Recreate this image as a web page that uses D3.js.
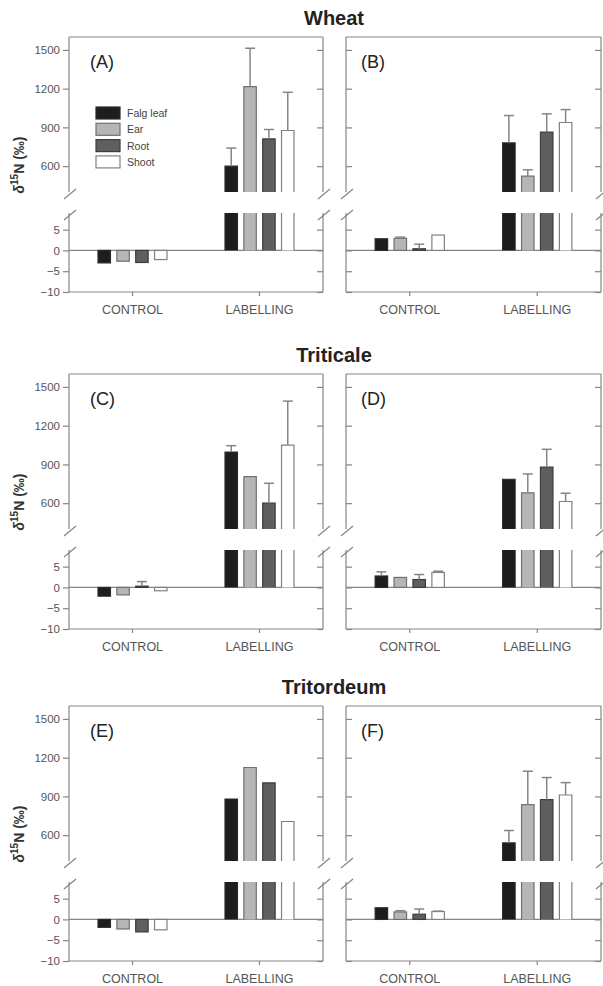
<!DOCTYPE html>
<html>
<head>
<meta charset="utf-8">
<script src="https://cdn.jsdelivr.net/npm/d3@7"></script>
<style>
  body { margin: 0; background: #fff; }
  text { font-family: "Liberation Sans", Arial, sans-serif; }
</style>
</head>
<body>
<script>
// data
const categories = ["CONTROL", "LABELLING"];
const tissues = ["Falg leaf", "Ear", "Root", "Shoot"];
const crops = ["Wheat", "Triticale", "Tritordeum"];
const panelLabels = ["(A)", "(B)", "(C)", "(D)", "(E)", "(F)"];
const upperTicks = [600, 900, 1200, 1500];
const lowerTicks = [-10, -5, 0, 5];

const ctrlA = [-3.0, -2.6, -2.9, -2.2], ctrlErrA = [0, 0, 0, 0];
const labA = [600, 1216, 811, 876], labErrA = [140, 297, 73, 296];
const ctrlB = [2.8, 2.9, 0.4, 3.7], ctrlErrB = [0, 0.3, 1.1, 0];
const labB = [780, 523, 863, 938], labErrB = [212, 49, 142, 100];
const ctrlC = [-2.1, -1.8, 0.3, -0.8], ctrlErrC = [0, 0, 1.1, 0];
const labC = [996, 805, 600, 1050], labErrC = [49, 0, 154, 340];
const ctrlD = [2.75, 2.4, 1.9, 3.6], ctrlErrD = [1.0, 0, 1.2, 0.3];
const labD = [785, 680, 880, 613], labErrD = [0, 146, 137, 64];
const ctrlE = [-1.9, -2.3, -3.0, -2.5], ctrlErrE = [0, 0, 0, 0];
const labE = [880, 1124, 1005, 706], labErrE = [0, 0, 0, 0];
const ctrlF = [2.8, 1.8, 1.25, 1.9], ctrlErrF = [0, 0.3, 1.25, 0.1];
const labF = [540, 836, 875, 911], labErrF = [96, 259, 171, 96];

const panels = [
    { ctrl: ctrlA, ctrlErr: ctrlErrA, lab: labA, labErr: labErrA },
    { ctrl: ctrlB, ctrlErr: ctrlErrB, lab: labB, labErr: labErrB },
    { ctrl: ctrlC, ctrlErr: ctrlErrC, lab: labC, labErr: labErrC },
    { ctrl: ctrlD, ctrlErr: ctrlErrD, lab: labD, labErr: labErrD },
    { ctrl: ctrlE, ctrlErr: ctrlErrE, lab: labE, labErr: labErrE },
    { ctrl: ctrlF, ctrlErr: ctrlErrF, lab: labF, labErr: labErrF }
];

const fills = ["#1d1d1d", "#b6b6b6", "#5f5f5f", "#ffffff"];
const strokes = ["#2a2a2a", "#707070", "#3c3c3c", "#808080"];
const axisColor = "#858585";
const textColor = "#555";

const cols = [{ x0: 69, x1: 323 }, { x0: 346, x1: 601 }];
const rowOffsets = [0, 337, 669];

const svg = d3.select("body").append("svg")
    .attr("width", 603)
    .attr("height", 986);

// crop titles
crops.forEach((c, r) => {
    svg.append("text")
        .attr("x", 334)
        .attr("y", 25 + rowOffsets[r])
        .attr("text-anchor", "middle")
        .attr("font-size", 20)
        .attr("font-weight", "bold")
        .attr("fill", "#222")
        .text(c);
});

function styleAxis(sel, size) {
    sel.select(".domain").remove();
    sel.selectAll(".tick line").attr("stroke", axisColor).attr("stroke-width", 1.2);
    sel.selectAll(".tick text")
        .attr("fill", textColor)
        .attr("font-size", size)
        .attr("font-family", "'Liberation Sans', Arial, sans-serif");
}

function drawPanel(idx) {
    const p = panels[idx];
    const c = idx % 2, r = Math.floor(idx / 2);
    const col = cols[c];
    const width = col.x1 - col.x0;
    const g = svg.append("g").attr("transform", `translate(${col.x0},${rowOffsets[r]})`);

    const x0 = d3.scaleBand().domain(categories).range([0, width]);
    const x1 = d3.scaleBand().domain(tissues).range([0, x0.bandwidth()])
        .paddingInner(0.34).paddingOuter(1.54);
    const yU = d3.scaleLinear().domain([400, 1600]).range([192, 37]);
    const yL = d3.scaleLinear().domain([-10, 9]).range([292, 213]);
    const lowTop = yL.domain()[1];
    const upBot = yU.domain()[0];

    // axes
    const showLabels = c === 0;
    const fmt = showLabels ? d3.format("d") : "";
    let ax = g.append("g").call(d3.axisLeft(yU).tickValues(upperTicks)
        .tickSize(showLabels ? 6 : -6).tickPadding(3).tickFormat(fmt));
    styleAxis(ax, 11.5);
    ax = g.append("g").call(d3.axisLeft(yL).tickValues(lowerTicks)
        .tickSize(showLabels ? 6 : -6).tickPadding(3).tickFormat(fmt));
    styleAxis(ax, 11.5);
    ax = g.append("g").attr("transform", `translate(${width},0)`)
        .call(d3.axisRight(yU).tickValues(upperTicks).tickSize(-6).tickFormat(""));
    styleAxis(ax, 11.5);
    ax = g.append("g").attr("transform", `translate(${width},0)`)
        .call(d3.axisRight(yL).tickValues(lowerTicks).tickSize(-6).tickFormat(""));
    styleAxis(ax, 11.5);
    ax = g.append("g").attr("transform", `translate(0,${yL(-10)})`)
        .call(d3.axisBottom(x0).tickSize(4).tickPadding(9));
    styleAxis(ax, 12.5);

    // frame with broken sides
    const frame = g.append("g").attr("stroke", axisColor).attr("stroke-width", 1.2).attr("fill", "none");
    frame.append("line").attr("x1", 0).attr("x2", width).attr("y1", yU(1600)).attr("y2", yU(1600));
    frame.append("line").attr("x1", 0).attr("x2", width).attr("y1", yL(-10)).attr("y2", yL(-10));
    [0, width].forEach(x => {
        frame.append("line").attr("x1", x).attr("x2", x).attr("y1", yU(1600)).attr("y2", yU(upBot));
        frame.append("line").attr("x1", x).attr("x2", x).attr("y1", yL(lowTop)).attr("y2", yL(-10));
        [yU(upBot) + 2, yL(lowTop) + 2].forEach(y => {
            frame.append("line")
                .attr("x1", x - 5).attr("y1", y + 5)
                .attr("x2", x + 7).attr("y2", y - 5);
        });
    });
    // zero line
    frame.append("line").attr("x1", 0).attr("x2", width).attr("y1", yL(0)).attr("y2", yL(0));

    // bars
    const bars = g.append("g");
    const w = x1.bandwidth();
    categories.forEach((cat, ci) => {
        const vals = ci === 0 ? p.ctrl : p.lab;
        const errs = ci === 0 ? p.ctrlErr : p.labErr;
        tissues.forEach((t, ti) => {
            const v = vals[ti], e = errs[ti];
            const bx = x0(cat) + x1(t);
            let errFrom, errTo;
            if (v > lowTop) {
                bars.append("rect").attr("x", bx).attr("width", w)
                    .attr("y", yL(lowTop)).attr("height", yL(0) - yL(lowTop))
                    .attr("fill", fills[ti]);
                bars.append("path")
                    .attr("d", `M${bx},${yL(0)}V${yL(lowTop)}M${bx + w},${yL(lowTop)}V${yL(0)}`)
                    .attr("fill", "none").attr("stroke", strokes[ti]).attr("stroke-width", 1.2);
                bars.append("rect").attr("x", bx).attr("width", w)
                    .attr("y", yU(v)).attr("height", yU(upBot) - yU(v))
                    .attr("fill", fills[ti]);
                bars.append("path")
                    .attr("d", `M${bx},${yU(upBot)}V${yU(v)}H${bx + w}V${yU(upBot)}`)
                    .attr("fill", "none").attr("stroke", strokes[ti]).attr("stroke-width", 1.2);
                errFrom = yU(v); errTo = yU(v + e);
            } else {
                bars.append("rect").attr("x", bx).attr("width", w)
                    .attr("y", yL(Math.max(v, 0)))
                    .attr("height", Math.abs(yL(v) - yL(0)))
                    .attr("fill", fills[ti])
                    .attr("stroke", strokes[ti]).attr("stroke-width", 1.2);
                errFrom = yL(v); errTo = yL(v + e);
            }
            if (e > 0) {
                const cx = bx + w / 2;
                bars.append("line").attr("x1", cx).attr("x2", cx)
                    .attr("y1", errFrom).attr("y2", errTo)
                    .attr("stroke", axisColor).attr("stroke-width", 1.5);
                bars.append("line").attr("x1", cx - 5).attr("x2", cx + 5)
                    .attr("y1", errTo).attr("y2", errTo)
                    .attr("stroke", axisColor).attr("stroke-width", 1.5);
            }
        });
    });

    // panel letter
    g.append("text")
        .attr("x", c === 0 ? 21 : 15)
        .attr("y", 68)
        .attr("font-size", 18)
        .attr("fill", "#222")
        .text(panelLabels[idx]);

    // y title
    if (c === 0) {
        const yt = g.append("text")
            .attr("transform", `translate(${24 - col.x0},165) rotate(-90)`)
            .attr("text-anchor", "middle")
            .attr("font-size", 14)
            .attr("font-weight", "bold")
            .attr("fill", "#333");
        yt.append("tspan").attr("font-style", "italic").text("δ");
        yt.append("tspan").attr("font-size", 10).attr("dy", -6).text("15");
        yt.append("tspan").attr("dy", 6).text("N (‰)");
    }

    // legend in first panel
    if (idx === 0) {
        const lg = g.append("g").attr("transform", `translate(${96 - col.x0},107)`);
        tissues.forEach((t, i) => {
            lg.append("rect").attr("x", 0).attr("y", i * 16.3)
                .attr("width", 24).attr("height", 12)
                .attr("fill", fills[i]).attr("stroke", strokes[i]).attr("stroke-width", 1.2);
            lg.append("text").attr("x", 31).attr("y", i * 16.3 + 10)
                .attr("font-size", 10.5).attr("fill", "#444").text(t);
        });
    }
}

panels.forEach((_p, i) => drawPanel(i));
</script>
</body>
</html>
